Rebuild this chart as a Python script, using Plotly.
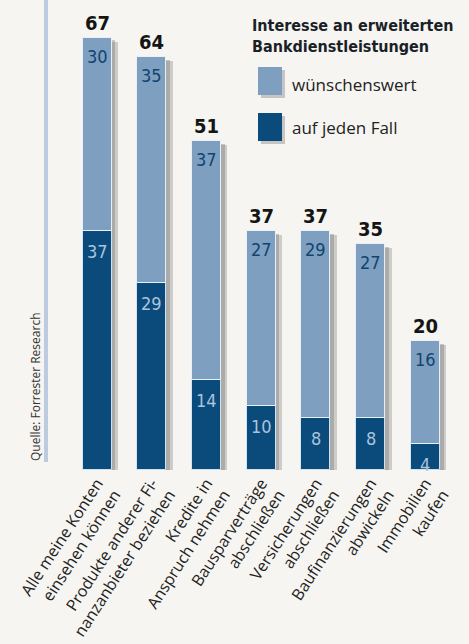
import plotly.graph_objects as go

categories = [
    "Alle meine Konten<br>einsehen können",
    "Produkte anderer Fi-<br>nanzanbieter beziehen",
    "Kredite in<br>Anspruch nehmen",
    "Bausparverträge<br>abschließen",
    "Versicherungen<br>abschließen",
    "Baufinanzierungen<br>abwickeln",
    "Immobilien<br>kaufen",
]
auf_jeden_fall = [37, 29, 14, 10, 8, 8, 4]
wuenschenswert = [30, 35, 37, 27, 29, 27, 16]
totals = [67, 64, 51, 37, 37, 35, 20]

LIGHT = "#7f9fc0"
DARK = "#0b4b7c"
BG = "#f6f5f1"
NUMFONT = "DejaVu Sans Condensed, Liberation Sans Narrow, sans-serif"
TXTFONT = "Open Sans, Noto Sans, sans-serif"

x = list(range(len(categories)))
W = 0.53

fig = go.Figure()
# shadows
fig.add_trace(go.Bar(x=x, y=totals, base=-0.6, width=W, offset=-W / 2 + 0.12,
                     marker=dict(color="rgba(110,110,110,0.30)", line=dict(width=0)),
                     hoverinfo="skip", showlegend=False))
fig.add_trace(go.Bar(x=x, y=totals, base=-0.4, width=W, offset=-W / 2 + 0.07,
                     marker=dict(color="rgba(110,110,110,0.35)", line=dict(width=0)),
                     hoverinfo="skip", showlegend=False))
fig.add_trace(go.Bar(x=x, y=auf_jeden_fall, base=0, width=W, offset=-W / 2,
                     marker=dict(color=DARK, line=dict(color="rgba(220,235,248,0.9)", width=1)),
                     name="auf jeden Fall", showlegend=False))
fig.add_trace(go.Bar(x=x, y=wuenschenswert, base=auf_jeden_fall, width=W, offset=-W / 2,
                     marker=dict(color=LIGHT, line=dict(color="rgba(235,242,250,0.95)", width=1)),
                     name="wünschenswert", showlegend=False))

ann = []
for i in x:
    top = auf_jeden_fall[i] + wuenschenswert[i]
    ann.append(dict(x=i, y=totals[i], xref="x", yref="y", text=f"<b>{totals[i]}</b>",
                    showarrow=False, yanchor="bottom", yshift=1,
                    font=dict(family=NUMFONT, size=20, color="#151515")))
    ann.append(dict(x=i, y=top, xref="x", yref="y", text=str(wuenschenswert[i]),
                    showarrow=False, yanchor="top", yshift=-6,
                    font=dict(family=NUMFONT, size=18, color="#0f4570")))
    ann.append(dict(x=i, y=auf_jeden_fall[i], xref="x", yref="y", text=str(auf_jeden_fall[i]),
                    showarrow=False, yanchor="top", yshift=-8,
                    font=dict(family=NUMFONT, size=18, color="#a9c4df")))

# legend
ann.append(dict(x=250 / 469, y=(470 - 14) / 470, xref="paper", yref="paper",
                text="<b>Interesse an erweiterten<br>Bankdienstleistungen</b>",
                showarrow=False, xanchor="left", yanchor="top", align="left",
                font=dict(family=NUMFONT, size=16, color="#1a1f28")))
ann.append(dict(x=290 / 469, y=(470 - 84) / 470, xref="paper", yref="paper",
                text="wünschenswert", showarrow=False, xanchor="left", yanchor="middle",
                font=dict(family=TXTFONT, size=17, color="#222")))
ann.append(dict(x=290 / 469, y=(470 - 128) / 470, xref="paper", yref="paper",
                text="auf jeden Fall", showarrow=False, xanchor="left", yanchor="middle",
                font=dict(family=TXTFONT, size=17, color="#222")))
ann.append(dict(x=35 / 469, y=(470 - 387) / 470, xref="paper", yref="paper",
                text="Quelle: Forrester Research", showarrow=False, textangle=-90,
                xanchor="center", yanchor="middle",
                font=dict(family=TXTFONT, size=12, color="#333")))

shapes = [
    dict(type="rect", xref="paper", yref="paper", x0=44 / 469, x1=48 / 469,
         y0=(470 - 462) / 470, y1=1, fillcolor="#bccbe0", line=dict(width=0)),
]
for (yt, col) in [(67, LIGHT), (113, DARK)]:
    shapes.append(dict(type="rect", xref="paper", yref="paper",
                       x0=261 / 469, x1=285 / 469, y0=(470 - yt - 31) / 470, y1=(470 - yt - 3) / 470,
                       fillcolor="rgba(110,110,110,0.35)", line=dict(width=0)))
    shapes.append(dict(type="rect", xref="paper", yref="paper",
                       x0=258 / 469, x1=282 / 469, y0=(470 - yt - 28) / 470, y1=(470 - yt) / 470,
                       fillcolor=col, line=dict(width=0)))

px_per = 54.7
xr0 = -97 / px_per
xr1 = (469 - 97) / px_per

fig.update_layout(
    width=469, height=644,
    margin=dict(l=0, r=0, t=0, b=174),
    paper_bgcolor=BG, plot_bgcolor=BG,
    barmode="overlay", bargap=0,
    annotations=ann, shapes=shapes,
    xaxis=dict(range=[xr0, xr1], tickvals=x, ticktext=categories, tickangle=-57,
               showgrid=False, zeroline=False, showline=False, ticks="",
               tickfont=dict(family=TXTFONT, size=16, color="#222")),
    yaxis=dict(range=[0, 470 / 6.45], visible=False, showgrid=False),
)

fig.write_html("out.html")
